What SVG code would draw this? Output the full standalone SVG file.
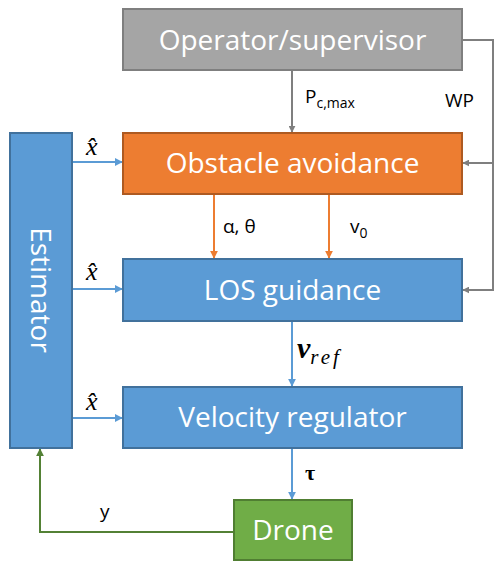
<svg xmlns="http://www.w3.org/2000/svg" width="494" height="563" viewBox="0 0 494 563">
  <style>
    .lbl { font-family: "Open Sans", "Liberation Sans", sans-serif; fill: #ffffff; text-anchor: middle; }
    .big { font-size: 28px; }
    .note { font-family: "Open Sans", "Liberation Sans", sans-serif; font-size: 19px; fill: #000; }
    .math { font-family: "Liberation Serif", "DejaVu Serif", serif; font-style: italic; fill: #000; }
    .gray { fill: #a5a5a5; stroke: #7f7f7f; stroke-width: 2; }
    .orange { fill: #ed7d31; stroke: #ae5a21; stroke-width: 2; }
    .blue { fill: #5b9bd5; stroke: #41719c; stroke-width: 2; }
    .green { fill: #70ad47; stroke: #507e32; stroke-width: 2; }
    .cg { stroke: #7f7f7f; stroke-width: 2; fill: none; }
    .co { stroke: #ed7d31; stroke-width: 2; fill: none; }
    .cb { stroke: #5b9bd5; stroke-width: 2; fill: none; }
    .cn { stroke: #538135; stroke-width: 2; fill: none; }
  </style>
  <defs>
    <marker id="ag" viewBox="0 0 10 10" refX="9" refY="5" markerWidth="7" markerHeight="7" orient="auto" markerUnits="userSpaceOnUse"><path d="M0,0 L10,5 L0,10 z" fill="#7f7f7f"/></marker>
    <marker id="ao" viewBox="0 0 10 10" refX="9" refY="5" markerWidth="8" markerHeight="8" orient="auto" markerUnits="userSpaceOnUse"><path d="M0,0 L10,5 L0,10 z" fill="#ed7d31"/></marker>
    <marker id="ab" viewBox="0 0 10 10" refX="9" refY="5" markerWidth="8" markerHeight="8" orient="auto" markerUnits="userSpaceOnUse"><path d="M0,0 L10,5 L0,10 z" fill="#5b9bd5"/></marker>
    <marker id="an" viewBox="0 0 10 10" refX="9" refY="5" markerWidth="8" markerHeight="8" orient="auto" markerUnits="userSpaceOnUse"><path d="M0,0 L10,5 L0,10 z" fill="#538135"/></marker>
  </defs>

  <!-- connectors -->
  <g id="connectors">
    <line class="cg" x1="292" y1="70" x2="292" y2="132" marker-end="url(#ag)"/>
    <polyline class="cg" points="462,40 493,40 493,290 463,290" marker-end="url(#ag)"/>
    <line class="cg" x1="493" y1="163" x2="463" y2="163" marker-end="url(#ag)"/>
    <line class="co" x1="214" y1="194" x2="214" y2="258" marker-end="url(#ao)"/>
    <line class="co" x1="329" y1="194" x2="329" y2="258" marker-end="url(#ao)"/>
    <line class="cb" x1="72" y1="162" x2="122" y2="162" marker-end="url(#ab)"/>
    <line class="cb" x1="72" y1="289" x2="122" y2="289" marker-end="url(#ab)"/>
    <line class="cb" x1="72" y1="418" x2="122" y2="418" marker-end="url(#ab)"/>
    <line class="cb" x1="292" y1="322" x2="292" y2="386" marker-end="url(#ab)"/>
    <line class="cb" x1="292" y1="448" x2="292" y2="499" marker-end="url(#ab)"/>
    <polyline class="cn" points="233,532 40,532 40,449" marker-end="url(#an)"/>

    <text class="note" x="305" y="103">P<tspan font-size="14" dy="5">c,max</tspan></text>
    <text class="note" x="445" y="107" font-size="20">WP</text>
    <text class="note" x="223" y="233">α, θ</text>
    <text class="note" x="350" y="233">v<tspan font-size="14" dy="5">0</tspan></text>
    <text class="math" x="86" y="155" font-size="26">x̂</text>
    <text class="math" x="86" y="280" font-size="26">x̂</text>
    <text class="math" x="86" y="410" font-size="26">x̂</text>
    <text class="math" x="297" y="358" font-size="30" font-weight="bold">v<tspan font-size="21" font-weight="normal" dy="6" letter-spacing="3">ref</tspan></text>
    <text x="305" y="480" font-family="Liberation Serif, DejaVu Serif, serif" font-size="22" font-weight="bold">τ</text>
    <text class="note" x="100" y="518">y</text>
  </g>

  <g id="operator">
    <rect class="gray" x="123" y="9" width="339" height="61"/>
    <text class="lbl big" x="292.5" y="50">Operator/supervisor</text>
  </g>
  <g id="obstacle-avoidance">
    <rect class="orange" x="123" y="133" width="339" height="61"/>
    <text class="lbl big" x="292.5" y="173">Obstacle avoidance</text>
  </g>
  <g id="los-guidance">
    <rect class="blue" x="123" y="259" width="339" height="62"/>
    <text class="lbl big" x="292.5" y="300">LOS guidance</text>
  </g>
  <g id="velocity-regulator">
    <rect class="blue" x="123" y="387" width="339" height="61"/>
    <text class="lbl big" x="292.5" y="427">Velocity regulator</text>
  </g>
  <g id="drone">
    <rect class="green" x="234" y="500" width="118" height="60"/>
    <text class="lbl big" x="293" y="540">Drone</text>
  </g>
  <g id="estimator">
    <rect class="blue" x="10" y="133" width="62" height="315"/>
    <text class="lbl big" transform="translate(31,290) rotate(90)" x="0" y="0">Estimator</text>
  </g>
</svg>
